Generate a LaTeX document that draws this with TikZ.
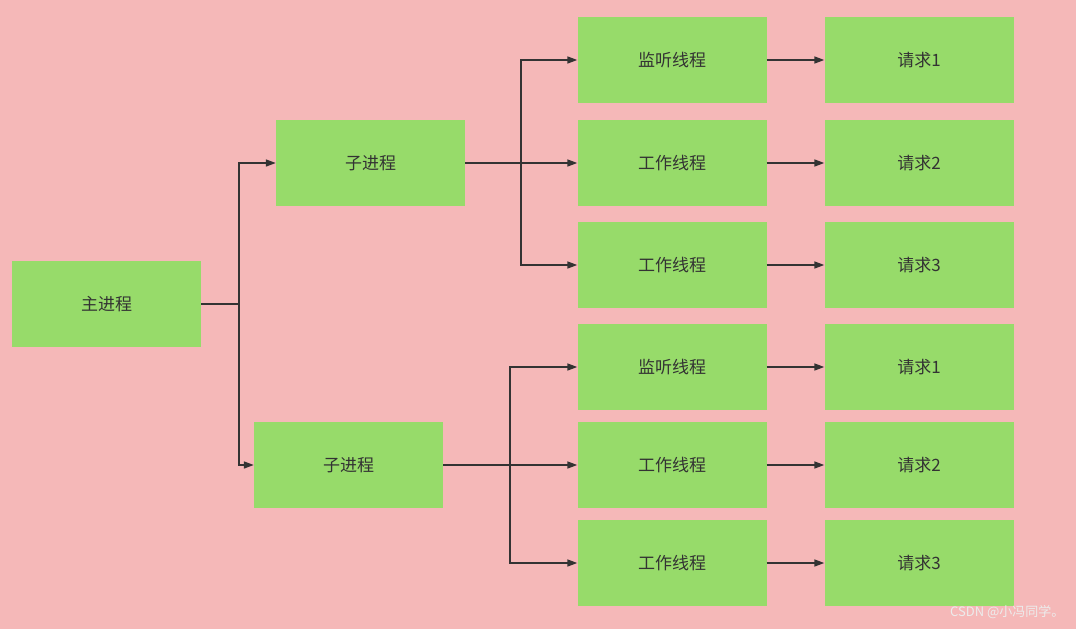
\documentclass[tikz,border=0pt]{standalone}
\usepackage{fontspec}
\setmainfont{Noto Sans CJK SC}
\usetikzlibrary{positioning, arrows.meta}
\definecolor{bgpink}{HTML}{F5B8B8}
\definecolor{boxgreen}{HTML}{97DB6A}
\definecolor{inkgray}{HTML}{333333}
\tikzset{
  proc/.style={fill=boxgreen, text=inkgray, minimum width=189pt, minimum height=86pt, inner sep=0pt, font=\fontsize{17}{20}\selectfont},
  link/.style={draw=inkgray, line width=1.6pt, -{Triangle[length=10pt, width=7pt]}}
}
\begin{document}
\begin{tikzpicture}[x=1pt, y=-1pt]
\fill[bgpink] (0,0) rectangle (1076,629);
\useasboundingbox (0,0) rectangle (1076,629);

\node[proc] (main) at (106.5,304) {主进程};
\node[proc] (sub1) at (370.5,163) {子进程};
\node[proc] (sub2) at (348.5,465) {子进程};

\node[proc] (t1) at (672,60) {监听线程};
\node[proc] (t2) at (672,163) {工作线程};
\node[proc] (t3) at (672,265) {工作线程};
\node[proc] (t4) at (672,367) {监听线程};
\node[proc] (t5) at (672,465) {工作线程};
\node[proc] (t6) at (672,563) {工作线程};

\node[proc] (r1) at (919,60) {请求1};
\node[proc] (r2) at (919,163) {请求2};
\node[proc] (r3) at (919,265) {请求3};
\node[proc] (r4) at (919,367) {请求1};
\node[proc] (r5) at (919,465) {请求2};
\node[proc] (r6) at (919,563) {请求3};

\coordinate (m) at (239,304);
\coordinate (s1) at (521,163);
\coordinate (s2) at (510,465);

\draw[draw=inkgray, line width=1.6pt] (main.east) -- (m);
\draw[link] (m) |- (sub1.west);
\draw[link] (m) |- (sub2.west);

\draw[draw=inkgray, line width=1.6pt] (sub1.east) -- (s1);
\draw[link] (s1) |- (t1.west);
\draw[link] (s1) -- (t2.west);
\draw[link] (s1) |- (t3.west);

\draw[draw=inkgray, line width=1.6pt] (sub2.east) -- (s2);
\draw[link] (s2) |- (t4.west);
\draw[link] (s2) -- (t5.west);
\draw[link] (s2) |- (t6.west);

\foreach \i in {1,...,6}
  \draw[link] (t\i.east) -- (r\i.west);

\node[anchor=south east, text=white!85!gray, font=\fontsize{13}{15}\selectfont] (mark) at (1068,622) {CSDN @小冯同学。};
\end{tikzpicture}
\end{document}
